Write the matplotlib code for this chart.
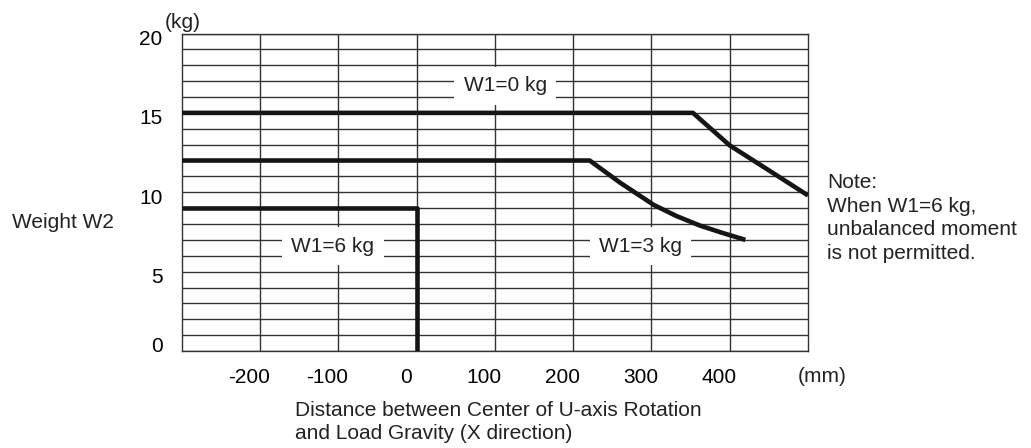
import numpy as np
import matplotlib
matplotlib.use("Agg")
import matplotlib.pyplot as plt
from matplotlib.transforms import ScaledTranslation

plt.rcParams['font.family'] = ['Liberation Sans', 'DejaVu Sans']
plt.rcParams['font.size'] = 15
plt.rcParams['axes.unicode_minus'] = False

# allowable W2 (kg) vs. distance (mm)
w0_x = [-300, 353, 400, 451, 500]
w0_y = [15, 15, 12.95, 11.35, 9.8]

w3_x = [-300, 221, 260, 303, 332, 362, 390, 420]
w3_y = [12, 12, 10.6, 9.2, 8.5, 7.9, 7.45, 7.0]

w6_x = [-300, 0, 0]
w6_y = [9, 9, 0]

x_ticks = [-200, -100, 0, 100, 200, 300, 400]
y_ticks = [0, 5, 10, 15, 20]

# curve labels: (text, x, y)
curve_labels = [("W1=0 kg", 113, 16.7), ("W1=6 kg", -107, 6.6), ("W1=3 kg", 286, 6.6)]

fig = plt.figure(figsize=(10.31, 4.48), dpi=100)
ax = fig.add_axes([0.1765, 0.2165, 0.6072, 0.7087])

ax.set_xlim(-300, 500)
ax.set_ylim(0, 20)
ax.set_xticks(x_ticks)
ax.set_yticks(y_ticks)
ax.set_yticks(np.arange(0, 21, 1), minor=True)
ax.grid(True, which='both', color='#333333', lw=1.0)
ax.set_axisbelow(True)
ax.tick_params(which='both', length=0)
ax.tick_params(axis='x', pad=12)
ax.tick_params(axis='y', pad=14)
for sp in ax.spines.values():
    sp.set_color('#333333')
    sp.set_linewidth(1.0)

# labels in the original sit a little off the grid lines
for lab in ax.get_xticklabels():
    lab.set_transform(lab.get_transform() + ScaledTranslation(-0.11, 0, fig.dpi_scale_trans))
for lab in ax.get_yticklabels():
    dy = 0.07 if lab.get_text() == '0' else -0.04
    lab.set_transform(lab.get_transform() + ScaledTranslation(0, dy, fig.dpi_scale_trans))

kw = dict(color='#151515', lw=3.3, solid_capstyle='butt', solid_joinstyle='round', zorder=3)
ax.plot(w0_x, w0_y, **kw)
ax.plot(w3_x, w3_y, **kw)
ax.plot(w6_x, w6_y, **kw)

for txt, x, y in curve_labels:
    ax.text(x, y, txt, ha='center', va='center', color='#222222', zorder=4,
            bbox=dict(boxstyle='square,pad=0.45', fc='white', ec='none'))

W, H = 1031, 448
fig.text(165 / W, 1 - 22 / H, "(kg)", ha='left', va='center', color='#222222')
fig.text(12 / W, 1 - 222 / H, "Weight W2", ha='left', va='center', color='#222222')
fig.text(798 / W, 1 - 377 / H, "(mm)", ha='left', va='center', color='#222222')
fig.text(295 / W, 1 - 422 / H, "Distance between Center of U-axis Rotation\nand Load Gravity (X direction)",
         ha='left', va='center', linespacing=1.32, color='#222222')
fig.text(827 / W, 1 - 218 / H, "Note:\nWhen W1=6 kg,\nunbalanced moment\nis not permitted.",
         ha='left', va='center', linespacing=1.32, color='#222222')

fig.savefig("out.png", dpi=100)
